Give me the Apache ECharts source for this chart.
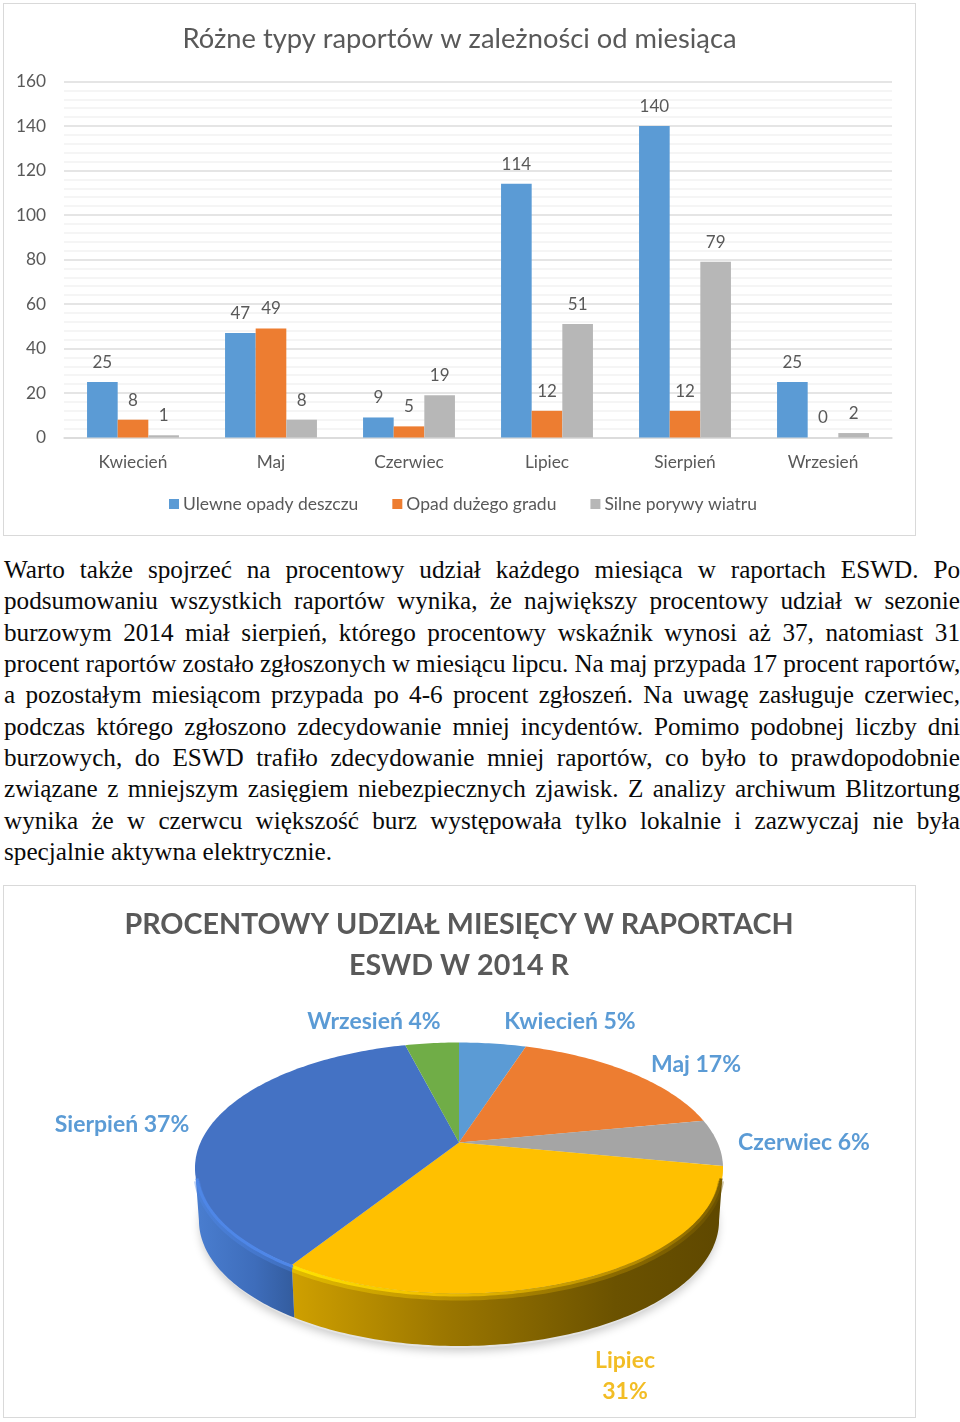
<!DOCTYPE html>
<html lang="pl"><head><meta charset="utf-8">
<style>
html,body{margin:0;padding:0;background:#fff;width:960px;height:1422px;overflow:hidden}
.frame{position:absolute;left:3px;width:911px;height:531px;border:1px solid #D9D9D9;background:#fff}
.chart{position:absolute;left:0;top:0;width:911px;height:531px}
#para{position:absolute;left:4px;top:554px;width:956px;font-family:"Liberation Serif",serif;font-size:25.2px;color:#0a0a0a;line-height:31.35px}
#para div{height:31.35px;white-space:nowrap;text-align:justify;text-align-last:justify}
#para div.last{text-align-last:left}
</style>
<script src="https://cdn.jsdelivr.net/npm/echarts@6/dist/echarts.min.js"></script>
</head><body>
<div class="frame" style="top:3px"><div id="barChart" class="chart"></div></div>
<div id="para"></div>
<div class="frame" style="top:885px"><div id="pieChart" class="chart"></div></div>
<script>
const months = ['Kwiecień','Maj','Czerwiec','Lipiec','Sierpień','Wrzesień'];
const rainReports = [25,47,9,114,140,25];
const hailReports = [8,49,5,12,12,0];
const windReports = [1,8,19,51,79,2];
const pieMonths = ['Kwiecień','Maj','Czerwiec','Lipiec','Sierpień','Wrzesień'];
const pieShares = [5,17,6,31,37,4];
const barTitle = 'Różne typy raportów w zależności od miesiąca';
const pieTitle = 'PROCENTOWY UDZIAŁ MIESIĘCY W RAPORTACH\nESWD W 2014 R';
const paragraphLines = [
'Warto także spojrzeć na procentowy udział każdego miesiąca w raportach ESWD. Po',
'podsumowaniu wszystkich raportów wynika, że największy procentowy udział w sezonie',
'burzowym 2014 miał sierpień, którego procentowy wskaźnik wynosi aż 37, natomiast 31',
'procent raportów zostało zgłoszonych w miesiącu lipcu. Na maj przypada 17 procent raportów,',
'a pozostałym miesiącom przypada po 4-6 procent zgłoszeń. Na uwagę zasługuje czerwiec,',
'podczas którego zgłoszono zdecydowanie mniej incydentów. Pomimo podobnej liczby dni',
'burzowych, do ESWD trafiło zdecydowanie mniej raportów, co było to prawdopodobnie',
'związane z mniejszym zasięgiem niebezpiecznych zjawisk. Z analizy archiwum Blitzortung',
'wynika że w czerwcu większość burz występowała tylko lokalnie i zazwyczaj nie była',
'specjalnie aktywna elektrycznie.'
];

const paraBox = document.getElementById('para');
paragraphLines.forEach((t,i)=>{
  const d=document.createElement('div');
  d.textContent=t;
  if(i===paragraphLines.length-1)d.className='last';
  paraBox.appendChild(d);
  /* a line wider than the column gets its word gaps tightened so it still fills it exactly */
  if(d.scrollWidth>d.clientWidth){
    d.style.wordSpacing=((d.clientWidth-d.scrollWidth)/(t.split(' ').length-1))+'px';
  }
});

const FONT='Lato, "Noto Sans", sans-serif';
const INK='#595959';
function barSeries(name,data,color){
  return {name,type:'bar',data,barGap:0,barCategoryGap:'33.4%',animation:false,
    itemStyle:{color},
    label:{show:true,position:'top',distance:11,color:INK,fontFamily:FONT,fontSize:17}};
}
const barInst=echarts.init(document.getElementById('barChart'),null,{renderer:'canvas'});
barInst.setOption({
  animation:false,
  title:{text:barTitle,left:'center',top:17,textStyle:{fontFamily:FONT,fontWeight:'normal',fontSize:27.3,color:INK}},
  grid:{left:60,top:77.5,width:828,height:356,containLabel:false},
  legend:{left:160,top:486,icon:'rect',itemWidth:10,itemHeight:10,itemGap:34,
    textStyle:{fontFamily:FONT,fontSize:17.5,color:INK,padding:[0,0,0,-1]}},
  xAxis:{type:'category',data:months,axisTick:{show:false},
    axisLine:{lineStyle:{color:'#D9D9D9',width:1.5}},
    axisLabel:{color:INK,fontFamily:FONT,fontSize:17.3,margin:16}},
  yAxis:{type:'value',min:0,max:160,interval:20,minorTick:{show:false,splitNumber:5},
    axisLine:{show:false},axisTick:{show:false},
    axisLabel:{color:INK,fontFamily:FONT,fontSize:17.3,margin:18},
    splitLine:{lineStyle:{color:'#DCDCDC',width:1.5}},
    minorSplitLine:{show:true,lineStyle:{color:'#F2F2F2',width:1.5}}},
  series:[barSeries('Ulewne opady deszczu',rainReports,'#5B9BD5'),
          barSeries('Opad dużego gradu',hailReports,'#ED7D31'),
          barSeries('Silne porywy wiatru',windReports,'#B7B7B7')]
});

/* perspective disc geometry (pie chart coordinates) */
const CX=455, CY=256.5, RX=258.5, RY=120.3, K=0.2032, DEPTH=52.5;
const RAD=Math.PI/180;
function topEdge(a){const w=1+K*Math.cos(a);return [CX+RX*Math.sin(a)/w,CY-RY*Math.cos(a)/w];}
function lowEdge(a){const p=topEdge(a);return [CX+(p[0]-CX)*0.985,p[1]+DEPTH];}
function arc(a0,a1,fn){const n=Math.max(2,Math.ceil(Math.abs(a1-a0)/RAD));const o=[];
  for(let i=0;i<=n;i++)o.push(fn(a0+(a1-a0)*i/n));return o;}
const sliceColors=['#5B9BD5','#ED7D31','#A5A5A5','#FFC000','#4472C4','#70AD47'];
/* gradient stops, left to right on screen */
const rimStops={
  3:[[0,'#CFA000'],[0.35,'#9C7700'],[0.75,'#6B5200'],[1,'#5F4800']],
  4:[[0,'#4A7ED0'],[0.6,'#3E6DBB'],[1,'#335C9E']]
};
const bevelStops={
  3:[[0,'#FFE400'],[0.3,'#F2C200'],[0.8,'#B58A00'],[1,'#7A5D00']],
  4:[[0,'#4E86E6'],[1,'#4F87E8']]
};
const labelColors=['#5B9BD5','#5B9BD5','#5B9BD5','#F2BD25','#5B9BD5','#5B9BD5'];
const labelAnchors=[[566,136],[692,179],[800,257],[621,490],[118,239],[370,136]];
const RIM0=Math.acos(-K), RIM1=2*Math.PI-RIM0;
const total=pieShares.reduce((s,v)=>s+v,0);
function grad(stops){return new echarts.graphic.LinearGradient(0,0,1,0,stops.map(s=>({offset:s[0],color:s[1]})));}
function renderSlice(params,api){
  const i=params.dataIndex, v=api.value(0);
  const before=pieShares.slice(0,i).reduce((s,x)=>s+x,0);
  const a0=before/total*2*Math.PI, a1=(before+v)/total*2*Math.PI;
  const children=[];
  const r0=Math.max(a0,RIM0), r1=Math.min(a1,RIM1);
  if(r1>r0){
    const upper=arc(r0,r1,topEdge), lower=arc(r0,r1,lowEdge);
    children.push({type:'polygon',shape:{points:upper.concat(lower.reverse())},
      style:{fill:grad(rimStops[i])}});
  }
  children.push({type:'polygon',shape:{points:[[CX,CY]].concat(arc(a0,a1,topEdge))},style:{fill:sliceColors[i]}});
  if(r1>r0){
    /* bevel along the front edge, kept just inside the disc's outline */
    const b0=Math.max(r0,RIM0+4*RAD), b1=Math.min(r1,RIM1-4*RAD);
    const inset=dy=>a=>{const p=topEdge(a);return [CX+(p[0]-CX)*0.995,p[1]+dy];};
    children.push({type:'polyline',shape:{points:arc(b0,b1,inset(4))},
      style:{fill:null,lineWidth:6,opacity:0.4,stroke:grad(bevelStops[i])}});
    children.push({type:'polyline',shape:{points:arc(b0,b1,inset(1.5))},
      style:{fill:null,lineWidth:3,stroke:grad(bevelStops[i])}});
  }
  const an=labelAnchors[i];
  const txt=i===3?pieMonths[i]+'\n'+v+'%':pieMonths[i]+' '+v+'%';
  children.push({type:'text',style:{text:txt,x:an[0],y:an[1],align:'center',verticalAlign:'middle',
    fill:labelColors[i],fontFamily:FONT,fontWeight:'bold',fontSize:23,lineHeight:31}});
  return {type:'group',children};
}
function renderShadow(){
  const pts=arc(0,2*Math.PI,a=>{const p=lowEdge(a);return [CX+(p[0]-CX)*0.995,p[1]+2];});
  return {type:'polygon',shape:{points:pts},
    style:{fill:'#E4E4E4',shadowBlur:10,shadowColor:'rgba(0,0,0,0.22)',shadowOffsetY:3}};
}
const pieInst=echarts.init(document.getElementById('pieChart'),null,{renderer:'canvas'});
pieInst.setOption({
  animation:false,
  title:{text:pieTitle,left:450,top:13,textAlign:'center',
    textStyle:{fontFamily:FONT,fontWeight:'bold',fontSize:28.7,lineHeight:41,color:INK}},
  series:[
    {type:'custom',coordinateSystem:'none',silent:true,z:1,animation:false,data:[[1]],renderItem:renderShadow},
    {type:'custom',coordinateSystem:'none',silent:true,z:2,animation:false,
     data:pieShares.map((v,i)=>({name:pieMonths[i],value:[v]})),renderItem:renderSlice}
  ]
});
</script>
</body></html>
